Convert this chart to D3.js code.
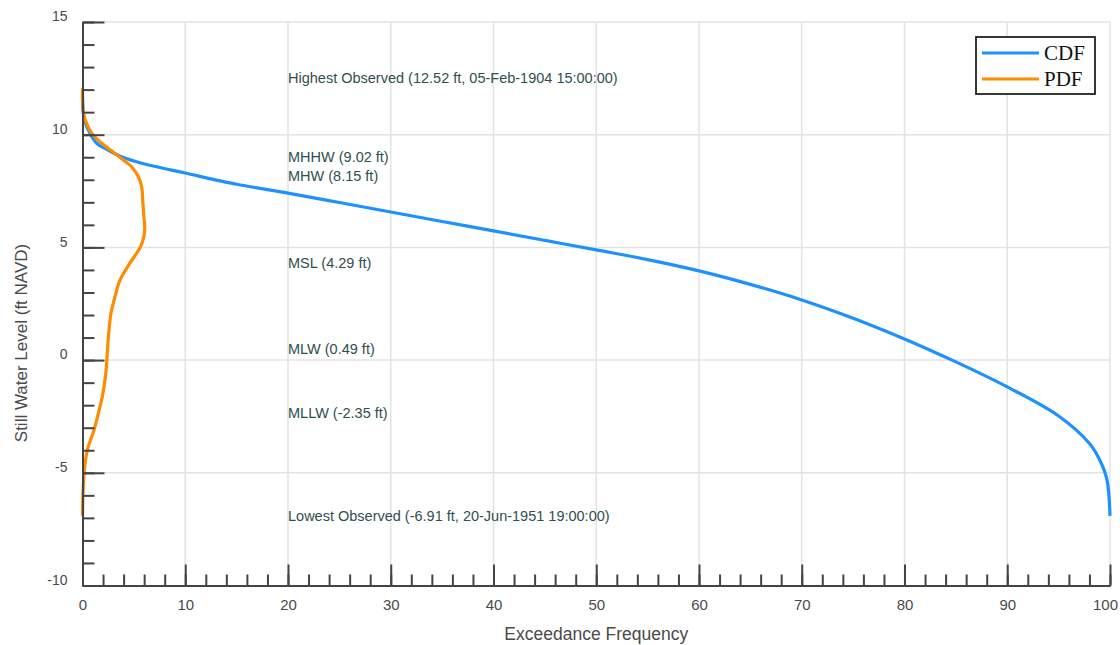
<!DOCTYPE html>
<html>
<head>
<meta charset="utf-8">
<script src="https://cdn.jsdelivr.net/npm/d3@7"></script>
<style>
  body { margin: 0; background: #fff; }
  svg { display: block; font-family: "Liberation Sans", Arial, sans-serif; }
</style>
</head>
<body>
<svg id="chart" width="1120" height="645"></svg>
<script>
// exceedance curve (percent of time level is exceeded)
const cdfFreq  = [0, 0.08, 0.3, 0.73, 1.38, 2.5, 3.8, 5.76, 8.68, 10, 15, 20, 25, 30, 35, 40, 45, 50, 55, 60, 65, 70, 75, 80, 85, 90, 95, 98, 99, 99.7, 100];
const cdfLevel = [11.7, 10.95, 10.5, 10.06, 9.62, 9.32, 9.02, 8.73, 8.43, 8.3, 7.8, 7.41, 6.99, 6.57, 6.15, 5.73, 5.31, 4.89, 4.46, 3.96, 3.36, 2.67, 1.86, 0.94, -0.08, -1.19, -2.48, -3.7, -4.43, -5.3, -6.91];

// probability density (percent), drawn sideways along the level axis
const pdfLevel = [12.06, 11.54, 10.95, 10.5, 10.06, 9.62, 9.17, 8.88, 8.58, 8.14, 7.69, 7.1, 6.5, 5.86, 5.5, 5.03, 4.29, 3.55, 2.81, 2.08, 1.34, 0.6, -0.14, -0.88, -1.62, -2.36, -3.1, -3.99, -4.88, -5.91, -6.91];
const pdfValue = [0, 0, 0.1, 0.4, 0.9, 1.87, 3.16, 3.97, 4.78, 5.43, 5.76, 5.86, 5.95, 6.06, 5.98, 5.65, 4.6, 3.65, 3.16, 2.77, 2.58, 2.45, 2.35, 2.19, 1.93, 1.54, 1.12, 0.47, 0.18, 0.05, 0];

// reference datums
const datumLevel = [12.52, 9.02, 8.15, 4.29, 0.49, -2.35, -6.91];
const datumText  = [
  "Highest Observed (12.52 ft, 05-Feb-1904 15:00:00)",
  "MHHW (9.02 ft)",
  "MHW (8.15 ft)",
  "MSL (4.29 ft)",
  "MLW (0.49 ft)",
  "MLLW (-2.35 ft)",
  "Lowest Observed (-6.91 ft, 20-Jun-1951 19:00:00)"
];

const xTicks = d3.range(0, 101, 10);
const xMinor = d3.range(0, 101, 2);
const yTicks = [-10, -5, 0, 5, 10, 15];
const yMinor = d3.range(-10, 16, 1);

const seriesNames  = ["CDF", "PDF"];
const seriesColors = ["#1e90ff", "#ff8c00"];

const margin = {left: 82.5, right: 10, top: 22, bottom: 59.5};
const W = 1120, H = 645;

const svg = d3.select("#chart");
const x = d3.scaleLinear().domain([0, 100]).range([margin.left, W - margin.right]);
const y = d3.scaleLinear().domain([-10, 15]).range([H - margin.bottom, margin.top]);

// grid
svg.append("g").selectAll("line").data(xTicks.slice(1)).join("line")
  .attr("x1", d => x(d)).attr("x2", d => x(d))
  .attr("y1", y(-10)).attr("y2", y(15))
  .attr("stroke", "#e3e3e3").attr("stroke-width", 1.5);
svg.append("g").selectAll("line").data(yTicks.slice(1)).join("line")
  .attr("x1", x(0)).attr("x2", x(100))
  .attr("y1", d => y(d)).attr("y2", d => y(d))
  .attr("stroke", "#e3e3e3").attr("stroke-width", 1.5);

// datum labels
svg.append("g").selectAll("text").data(datumLevel).join("text")
  .attr("x", x(20)).attr("y", d => y(d))
  .attr("dy", "0.35em")
  .attr("font-size", 14.5)
  .attr("fill", "#2f4f4f")
  .text((d, i) => datumText[i]);

// curves
const cdfLine = d3.line().x(d => x(d[0])).y(d => y(d[1])).curve(d3.curveCatmullRom.alpha(0.5));
svg.append("path")
  .datum(d3.zip(cdfFreq, cdfLevel))
  .attr("d", cdfLine)
  .attr("fill", "none").attr("stroke", seriesColors[0]).attr("stroke-width", 3.2);

const pdfLine = d3.line().x(d => x(d[0])).y(d => y(d[1])).curve(d3.curveCatmullRom.alpha(0.5));
svg.append("path")
  .datum(d3.zip(pdfValue, pdfLevel))
  .attr("d", pdfLine)
  .attr("fill", "none").attr("stroke", seriesColors[1]).attr("stroke-width", 3.2);

// axes (ticks point inward)
const axisColor = "#444";
function styleAxis(g) {
  g.selectAll("path, line").attr("stroke", axisColor).attr("stroke-width", 2);
  g.selectAll("text").attr("fill", "#4a4a4a");
}
const plain = d => String(d);

svg.append("g").attr("transform", `translate(0,${y(-10)})`)
  .call(d3.axisBottom(x).tickValues(xMinor).tickSize(-11).tickSizeOuter(0).tickFormat(""))
  .call(styleAxis);
svg.append("g").attr("transform", `translate(0,${y(-10)})`)
  .call(d3.axisBottom(x).tickValues(xTicks).tickSize(-21).tickSizeOuter(0).tickPadding(14).tickFormat(plain))
  .call(styleAxis)
  .call(g => g.selectAll("text").attr("font-size", 15))
  .call(g => g.selectAll(".tick:last-of-type text").attr("dx", "-5"));

svg.append("g").attr("transform", `translate(${x(0)},0)`)
  .call(d3.axisLeft(y).tickValues(yMinor).tickSize(-12).tickSizeOuter(0).tickFormat(""))
  .call(styleAxis);
svg.append("g").attr("transform", `translate(${x(0)},0)`)
  .call(d3.axisLeft(y).tickValues(yTicks).tickSize(-22).tickSizeOuter(0).tickPadding(15).tickFormat(plain))
  .call(styleAxis)
  .call(g => g.selectAll("text").attr("font-size", 14).attr("dy", "-0.1em"));

// axis titles
svg.append("text")
  .attr("x", (x(0) + x(100)) / 2).attr("y", 640)
  .attr("text-anchor", "middle").attr("font-size", 17.5).attr("fill", "#4a4a4a")
  .text("Exceedance Frequency");
svg.append("text")
  .attr("transform", `translate(27,343) rotate(-90)`)
  .attr("text-anchor", "middle").attr("font-size", 17).attr("fill", "#4a4a4a")
  .text("Still Water Level (ft NAVD)");

// legend
const leg = svg.append("g").attr("transform", "translate(976,37)");
leg.append("rect").attr("width", 119).attr("height", 57)
  .attr("fill", "#fff").attr("stroke", "#222").attr("stroke-width", 1.8);
seriesNames.forEach((name, i) => {
  const row = leg.append("g").attr("transform", `translate(0,${16 + i * 26})`);
  row.append("line").attr("x1", 6).attr("x2", 63)
    .attr("stroke", seriesColors[i]).attr("stroke-width", 3.2);
  row.append("text").attr("x", 68).attr("dy", "0.35em")
    .attr("font-family", "'Liberation Serif', 'DejaVu Serif', serif")
    .attr("font-size", 21).attr("fill", "#111")
    .text(name);
});
</script>
</body>
</html>
